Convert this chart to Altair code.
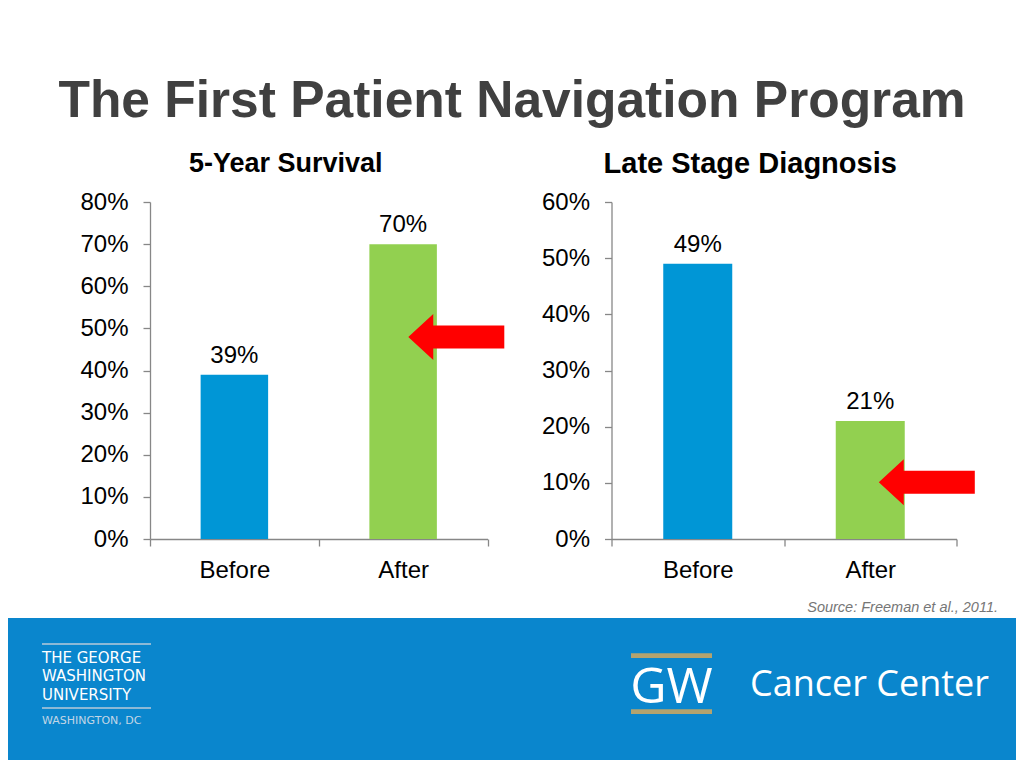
import altair as alt
import pandas as pd

# ---------------- data ----------------
TITLE = "The First Patient Navigation Program"
SURV_TITLE = "5-Year Survival"
LATE_TITLE = "Late Stage Diagnosis"
PERIODS = ["Before", "After"]
SURVIVAL = [0.39, 0.70]
LATE_STAGE = [0.49, 0.21]
SURV_TICKS = [0.0, 0.1, 0.2, 0.3, 0.4, 0.5, 0.6, 0.7, 0.8]
LATE_TICKS = [0.0, 0.1, 0.2, 0.3, 0.4, 0.5, 0.6]
SOURCE = "Source: Freeman et al., 2011."
GWU_LINES = ["THE GEORGE", "WASHINGTON", "UNIVERSITY"]
GWU_CITY = "WASHINGTON, DC"
GW_MARK = "GW"
CENTER_NAME = "Cancer Center"
BAR_COLORS = ["#0096D6", "#92D050"]

# ---------------- style ----------------
FONT = "Liberation Sans, Arial, sans-serif"
AXIS_GRAY = "#878787"
FOOT_BLUE = "#0A86CD"
GOLD = "#B4A36E"
ARROW_PATH = ("M -1 0 L -0.48 -0.48 L -0.48 -0.24 L 1 -0.24 L 1 0.24 "
              "L -0.48 0.24 L -0.48 0.48 Z")
PANEL_H = 337
GAP = 79


def one(value):
    return alt.Chart(pd.DataFrame({"t": [value]}))


def panel(values, ticks, title, title_x, title_y, title_size, width, arrow_x, arrow_y):
    df = pd.DataFrame({"period": PERIODS, "value": values, "color": BAR_COLORS})
    x = alt.X(
        "period:N", sort=PERIODS, title=None,
        scale=alt.Scale(paddingInner=0, paddingOuter=0),
        axis=alt.Axis(labelAngle=0, tickBand="extent", tickSize=7, labelPadding=12,
                      labelFontSize=24, labelFont=FONT, labelColor="black",
                      domainColor=AXIS_GRAY, tickColor=AXIS_GRAY,
                      domainWidth=1.3, tickWidth=1.3, grid=False),
    )
    y = alt.Y(
        "value:Q", title=None,
        scale=alt.Scale(domain=[0, ticks[-1]], nice=False),
        axis=alt.Axis(values=ticks, format=".0%", tickSize=7, labelPadding=15,
                      labelFontSize=24, labelFont=FONT, labelColor="black",
                      domainColor=AXIS_GRAY, tickColor=AXIS_GRAY,
                      domainWidth=1.3, tickWidth=1.3, grid=False),
    )
    base = alt.Chart(df)
    bars = base.mark_bar(width=alt.RelativeBandSize(0.4)).encode(
        x=x, y=y, color=alt.Color("color:N", scale=None))
    labels = base.mark_text(baseline="alphabetic", dy=-12, fontSize=24, font=FONT,
                            color="black").encode(
        x=x, y=y, text=alt.Text("value:Q", format=".0%"))
    ttl = one(title).mark_text(fontSize=title_size, fontWeight="bold", font=FONT,
                               baseline="alphabetic", align="center",
                               color="black").encode(
        text="t:N", x=alt.value(title_x), y=alt.value(title_y))
    arrow = one(1).mark_point(shape=ARROW_PATH, size=9216, filled=True,
                              color="#FF0000", opacity=1, strokeWidth=0).encode(
        x=alt.value(arrow_x), y=alt.value(arrow_y))
    return alt.layer(bars, labels, ttl, arrow).properties(width=width, height=PANEL_H)


left = panel(SURVIVAL, SURV_TICKS, SURV_TITLE, 135.8, -30.3, 27, 337.5, 306.3, 135)
right = panel(LATE_STAGE, LATE_TICKS, LATE_TITLE, 138.7, -28.7, 29, 345, 315.3, 280.3)

spacer = one(0).mark_point(opacity=0).properties(width=142, height=PANEL_H)

row = alt.hconcat(spacer,
                  alt.hconcat(left, right, spacing=123.5, bounds="flush"),
                  spacing=0, bounds="flush")

title_chart = one(TITLE).mark_text(fontSize=51.5, fontWeight="bold", font=FONT,
                                   color="#404040", align="center",
                                   baseline="alphabetic").encode(
    text="t:N", x=alt.value(504), y=alt.value(109.3)).properties(width=1008, height=115)

# ---------------- footer ----------------
FW, FH = 1008, 142
bg = one(0).mark_rect(color=FOOT_BLUE).encode(
    x=alt.value(0), x2=alt.value(FW), y=alt.value(0), y2=alt.value(FH))
source = one(SOURCE).mark_text(font=FONT, fontSize=14.5, fontStyle="italic",
                               color="#767676", align="right",
                               baseline="alphabetic").encode(
    text="t:N", x=alt.value(990), y=alt.value(-6))
rule_top = one(0).mark_rule(color="#b8cad8", strokeWidth=1.5).encode(
    x=alt.value(34), x2=alt.value(143), y=alt.value(26))
rule_bot = one(0).mark_rule(color="#b8cad8", strokeWidth=1.5).encode(
    x=alt.value(34), x2=alt.value(143), y=alt.value(90))
gwu = [
    one(txt).mark_text(font="DejaVu Sans", fontSize=15, color="white",
                       align="left", baseline="alphabetic").encode(
        text="t:N", x=alt.value(34), y=alt.value(yy))
    for txt, yy in zip(GWU_LINES, [44.7, 63.3, 81.7])
]
city = one(GWU_CITY).mark_text(font="DejaVu Sans", fontSize=11, color="#c3d6e6",
                               align="left", baseline="alphabetic").encode(
    text="t:N", x=alt.value(34), y=alt.value(106.3))
gold_top = one(0).mark_rect(color=GOLD).encode(
    x=alt.value(623), x2=alt.value(704), y=alt.value(35.3), y2=alt.value(40))
gold_bot = one(0).mark_rect(color=GOLD).encode(
    x=alt.value(623), x2=alt.value(704), y=alt.value(91.3), y2=alt.value(96))
gw = one(GW_MARK).mark_text(font="Open Sans", fontSize=50, color="white",
                            align="center", baseline="alphabetic").encode(
    text="t:N", x=alt.value(663.5), y=alt.value(84.7))
cc = one(CENTER_NAME).mark_text(font="Open Sans", fontSize=36, color="white",
                                align="left", baseline="alphabetic").encode(
    text="t:N", x=alt.value(742), y=alt.value(77.7))

footer = alt.layer(bg, source, rule_top, rule_bot, *gwu, city, gold_top, gold_bot,
                   gw, cc).properties(width=FW, height=FH)

# nested concat: a flush concat counts as zero height, so the footer's offset
# below the panel row is the panel height plus the gap
lower = alt.vconcat(row, footer, spacing=PANEL_H + GAP, bounds="flush")

chart = alt.vconcat(title_chart, lower, spacing=GAP, bounds="flush").properties(
    padding=0, background="white"
).configure_view(strokeWidth=0)

chart.save("out.html", embed_options={"renderer": "svg", "actions": False})
